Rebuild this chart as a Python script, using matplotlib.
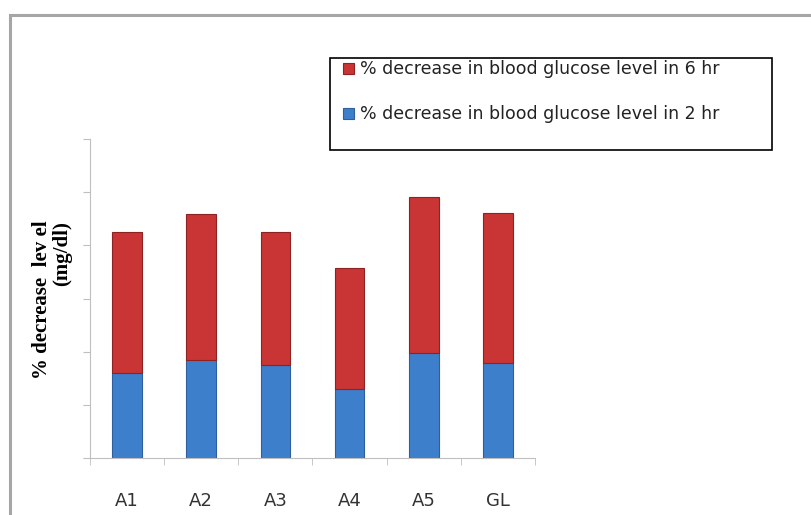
import matplotlib.pyplot as plt
import matplotlib.patches as patches
import numpy as np

# Werte
groups = ['A1', 'A2', 'A3', 'A4', 'A5', 'GL']
dec_2hr = [15.9, 18.4, 17.4, 13.0, 19.8, 17.9]
dec_6hr = [26.6, 27.5, 25.1, 22.7, 29.3, 28.2]
label_6hr = '% decrease in blood glucose level in 6 hr'
label_2hr = '% decrease in blood glucose level in 2 hr'

red = '#c93434'
blue = '#3e7fcc'

W, H = 812, 515
fig = plt.figure(figsize=(W / 100, H / 100), dpi=100)

# grauer Rahmen wie im Original
frame = patches.Rectangle((10 / W, -0.1), 1.2, (H - 15) / H + 0.1,
                          transform=fig.transFigure, fill=False,
                          edgecolor='#a6a6a6', linewidth=2.2)
fig.patches.append(frame)

ax = fig.add_axes([90 / W, 57.3 / H, 445 / W, 318.4 / H])
x = np.arange(len(groups))
w = 0.4
b1 = ax.bar(x, dec_2hr, width=w, color=blue, edgecolor='#2d5f9e', linewidth=0.8,
            label=label_2hr)
b2 = ax.bar(x, dec_6hr, width=w, bottom=dec_2hr, color=red, edgecolor='#8e2222',
            linewidth=0.8, label=label_6hr)

ax.set_xlim(-0.5, len(groups) - 0.5)
ax.set_ylim(0, 60)
ax.set_yticks(np.arange(0, 61, 10))
ax.set_yticklabels([])
ax.set_xticks(x)
ax.set_xticklabels(groups, fontsize=13, color='#333333')
ax.set_xticks(np.arange(-0.5, len(groups)), minor=True)
ax.tick_params(axis='x', which='major', length=0, pad=25)
ax.tick_params(axis='x', which='minor', length=5, color='#bfbfbf', direction='out')
ax.tick_params(axis='y', length=5, color='#bfbfbf')
for s in ['top', 'right']:
    ax.spines[s].set_visible(False)
ax.spines['left'].set_color('#bfbfbf')
ax.spines['bottom'].set_color('#bfbfbf')

fig.text(52 / W, (H - 300) / H, '% decrease  lev el\n(mg/dl)',
         rotation=90, ha='center', va='center', multialignment='right',
         family='Liberation Serif', fontweight='bold', fontsize=15,
         linespacing=1.0)

# Legendenkasten separat, damit er so breit wie im Original ist
box = patches.Rectangle((330 / W, (H - 150) / H), 442 / W, 92 / H,
                        transform=fig.transFigure, fill=False,
                        edgecolor='black', linewidth=1.2)
fig.patches.append(box)
leg = fig.legend([b2, b1], [label_6hr, label_2hr],
                 loc='upper left', bbox_to_anchor=(340 / W, (H - 57) / H),
                 fontsize=12.5, frameon=False, handlelength=0.6,
                 handleheight=0.6, handletextpad=0.35, labelspacing=1.55,
                 borderpad=0.2, borderaxespad=0)
for t in leg.get_texts():
    t.set_color('#222222')

fig.savefig('out.png', dpi=100)
